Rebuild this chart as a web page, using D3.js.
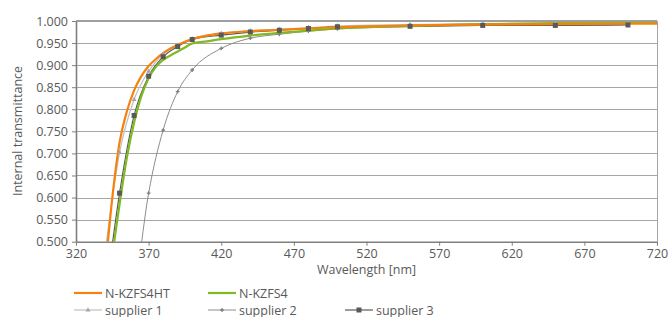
<!DOCTYPE html>
<html>
<head>
<meta charset="utf-8">
<script src="https://cdn.jsdelivr.net/npm/d3@7"></script>
<style>
  body { margin: 0; background: #fff; }
  text { font-family: "Open Sans", "Noto Sans", sans-serif; fill: #595959; }
</style>
</head>
<body>
<svg id="chart" width="670" height="317"></svg>
<script>
// data
var X_TICKS = [320, 370, 420, 470, 520, 570, 620, 670, 720]
var Y_TICKS = [0.5, 0.55, 0.6, 0.65, 0.7, 0.75, 0.8, 0.85, 0.9, 0.95, 1.0]

var GLASS_WL = [340, 345, 350, 355, 360, 365, 370, 375, 380, 385, 390, 395, 400, 410, 420, 440, 460, 480, 500, 550, 600, 650, 700, 720]
var N_KZFS4HT = [0.43, 0.60, 0.725, 0.795, 0.843, 0.875, 0.898, 0.914, 0.927, 0.938, 0.946, 0.953, 0.959, 0.967, 0.972, 0.977, 0.980, 0.983, 0.986, 0.990, 0.992, 0.993, 0.994, 0.994]
var N_KZFS4 = [0.36, 0.47, 0.585, 0.69, 0.77, 0.83, 0.87, 0.896, 0.912, 0.922, 0.931, 0.94, 0.949, 0.954, 0.959, 0.967, 0.973, 0.978, 0.983, 0.989, 0.993, 0.995, 0.996, 0.996]

var SUP_WL = [340, 350, 360, 370, 380, 390, 400, 420, 440, 460, 480, 500, 550, 600, 650, 700]
var SUPPLIER_1 = [0.475, 0.702, 0.822, 0.886, 0.925, 0.945, 0.960, 0.972, 0.978, 0.981, 0.985, 0.989, 0.992, 0.994, 0.995, 0.995]
var SUPPLIER_2 = [0.15, 0.25, 0.38, 0.610, 0.753, 0.840, 0.889, 0.938, 0.961, 0.970, 0.977, 0.982, 0.987, 0.990, 0.991, 0.992]
var SUPPLIER_3 = [0.366, 0.610, 0.786, 0.875, 0.919, 0.942, 0.958, 0.968, 0.975, 0.979, 0.983, 0.987, 0.988, 0.990, 0.990, 0.991]

var svg = d3.select("#chart")

var x = d3.scaleLinear().domain([320, 720]).range([76, 657])
var y = d3.scaleLinear().domain([0.5, 1.0]).range([241.7, 21])

svg.append("defs")
  .append("clipPath")
    .attr("id", "plot_clip")
  .append("rect")
    .attr("x", 76)
    .attr("y", 15)
    .attr("width", 581)
    .attr("height", 226.7)

// GRID

svg.append("g")
  .selectAll("line")
  .data(Y_TICKS.slice(1, -1))
  .enter()
  .append("line")
    .attr("x1", 76)
    .attr("x2", 657)
    .attr("y1", function(d){ return Math.round(y(d)) + 0.5 })
    .attr("y2", function(d){ return Math.round(y(d)) + 0.5 })
    .style("stroke", "#a6a6a6")
    .style("stroke-width", 1.2)

// right border
svg.append("line")
  .attr("x1", 657.5).attr("x2", 657.5)
  .attr("y1", 21).attr("y2", 241.7)
  .style("stroke", "#a6a6a6")
  .style("stroke-width", 1)

// AXES

var xAxis = svg.append("g")
  .attr("transform", "translate(0," + 241.7 + ")")
  .call(d3.axisBottom(x).tickValues(X_TICKS).tickSize(4).tickSizeOuter(0).tickFormat(d3.format("d")))
xAxis.select(".domain").style("stroke", "#7f7f7f").style("stroke-width", 1.6)
xAxis.selectAll(".tick line").style("stroke", "#7f7f7f")
xAxis.selectAll(".tick text")
  .attr("y", 7)
  .style("font-size", "12.5px")
  .style("fill", "#595959")

var yAxis = svg.append("g")
  .attr("transform", "translate(76,0)")
  .call(d3.axisLeft(y).tickValues(Y_TICKS).tickSize(4).tickSizeOuter(0).tickFormat(d3.format(".3f")))
yAxis.select(".domain").style("stroke", "#7f7f7f").style("stroke-width", 1.6)
yAxis.selectAll(".tick line").style("stroke", "#7f7f7f")
yAxis.selectAll(".tick text")
  .attr("x", -8)
  .style("font-size", "12.5px")
  .style("fill", "#595959")

// top line at 1.000
svg.append("line")
  .attr("x1", 76).attr("x2", 657)
  .attr("y1", 21).attr("y2", 21)
  .style("stroke", "#7f7f7f")
  .style("stroke-width", 1.6)

svg.append("text")
  .attr("x", 366.5)
  .attr("y", 274)
  .attr("text-anchor", "middle")
  .style("font-size", "12.5px")
  .text("Wavelength [nm]")

svg.append("text")
  .attr("transform", "translate(22,131) rotate(-90)")
  .attr("text-anchor", "middle")
  .style("font-size", "12.5px")
  .text("Internal transmittance")

// SERIES

var plot = svg.append("g").attr("clip-path", "url(#plot_clip)")

function add_series(wl, vals, color, width, curve){
  var pts = wl.map(function(d, i){ return [d, vals[i]] })
  plot.append("path")
    .datum(pts)
    .attr("fill", "none")
    .attr("stroke", color)
    .attr("stroke-width", width)
    .attr("stroke-linejoin", "round")
    .attr("d", d3.line()
      .x(function(d){ return x(d[0]) })
      .y(function(d){ return y(d[1]) })
      .curve(curve))
  return pts
}

var pts1 = add_series(SUP_WL, SUPPLIER_1, "#bfbfbf", 1.2, d3.curveMonotoneX)
var pts2 = add_series(SUP_WL, SUPPLIER_2, "#8c8c8c", 1, d3.curveMonotoneX)
var pts3 = add_series(SUP_WL, SUPPLIER_3, "#595959", 1.2, d3.curveMonotoneX)
add_series(GLASS_WL, N_KZFS4, "#7fba23", 2.2, d3.curveMonotoneX)
add_series(GLASS_WL, N_KZFS4HT, "#f5820f", 2.2, d3.curveMonotoneX)

// markers
plot.selectAll(".m1")
  .data(pts1)
  .enter()
  .append("path")
    .attr("class", "m1")
    .attr("d", d3.symbol().type(d3.symbolTriangle).size(10))
    .attr("transform", function(d){ return "translate(" + x(d[0]) + "," + y(d[1]) + ")" })
    .style("fill", "#a6a6a6")

plot.selectAll(".m2")
  .data(pts2)
  .enter()
  .append("path")
    .attr("class", "m2")
    .attr("d", d3.symbol().type(d3.symbolCross).size(8))
    .attr("transform", function(d){ return "translate(" + x(d[0]) + "," + y(d[1]) + ")" })
    .style("fill", "#7f7f7f")

plot.selectAll(".m3")
  .data(pts3)
  .enter()
  .append("rect")
    .attr("class", "m3")
    .attr("x", function(d){ return x(d[0]) - 2.5 })
    .attr("y", function(d){ return y(d[1]) - 2.5 })
    .attr("width", 5)
    .attr("height", 5)
    .style("fill", "#595959")

// LEGEND

var LEGEND = [
  {"name": "N-KZFS4HT", "color": "#f5820f", "w": 2.2, "mark": null, "x": 74, "y": 293},
  {"name": "N-KZFS4", "color": "#7fba23", "w": 2.2, "mark": null, "x": 208, "y": 293},
  {"name": "supplier 1", "color": "#bfbfbf", "w": 1.2, "mark": "tri", "x": 74, "y": 310},
  {"name": "supplier 2", "color": "#8c8c8c", "w": 1, "mark": "cross", "x": 208, "y": 310},
  {"name": "supplier 3", "color": "#595959", "w": 1.2, "mark": "sq", "x": 345, "y": 310}
]

var leg = svg.append("g")
  .selectAll("g")
  .data(LEGEND)
  .enter()
  .append("g")
    .attr("transform", function(d){ return "translate(" + d.x + "," + d.y + ")" })

leg.append("line")
  .attr("x1", 0).attr("x2", 28)
  .attr("y1", 0).attr("y2", 0)
  .style("stroke", function(d){ return d.color })
  .style("stroke-width", function(d){ return d.w })

leg.filter(function(d){ return d.mark === "tri" })
  .append("path")
    .attr("d", d3.symbol().type(d3.symbolTriangle).size(10))
    .attr("transform", "translate(14,0)")
    .style("fill", "#a6a6a6")
leg.filter(function(d){ return d.mark === "cross" })
  .append("path")
    .attr("d", d3.symbol().type(d3.symbolCross).size(8))
    .attr("transform", "translate(14,0)")
    .style("fill", "#7f7f7f")
leg.filter(function(d){ return d.mark === "sq" })
  .append("rect")
    .attr("x", 11.5).attr("y", -2.5)
    .attr("width", 5).attr("height", 5)
    .style("fill", "#595959")

leg.append("text")
  .attr("x", 31)
  .attr("y", 4.5)
  .style("font-size", "12.5px")
  .text(function(d){ return d.name })
</script>
</body>
</html>
